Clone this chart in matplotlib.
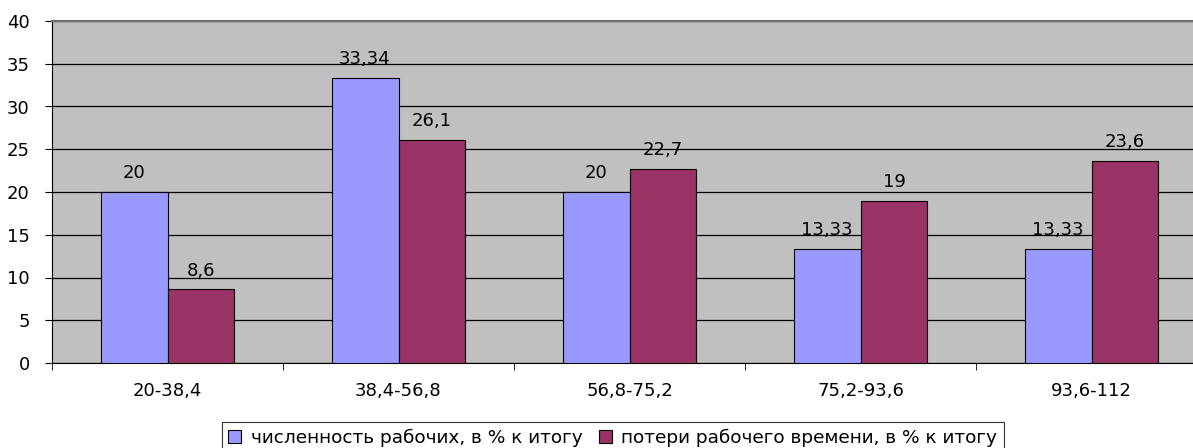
import numpy as np
import matplotlib.pyplot as plt

categories = ["20-38,4", "38,4-56,8", "56,8-75,2", "75,2-93,6", "93,6-112"]
workers = [20, 33.34, 20, 13.33, 13.33]
losses = [8.6, 26.1, 22.7, 19, 23.6]
workers_lbl = ["20", "33,34", "20", "13,33", "13,33"]
losses_lbl = ["8,6", "26,1", "22,7", "19", "23,6"]

plt.rcParams["font.family"] = ["DejaVu Sans"]
FS = 13

fig = plt.figure(figsize=(11.93, 4.48), dpi=100)
ax = fig.add_axes([52 / 1193, 85 / 448, 1155 / 1193, 342 / 448])
ax.set_facecolor("#C0C0C0")

x = np.arange(len(categories))
w = 0.29
b1 = ax.bar(x - w / 2, workers, w, color="#9999FF", edgecolor="black", linewidth=0.8,
            label="численность рабочих, в % к итогу", zorder=3)
b2 = ax.bar(x + w / 2, losses, w, color="#993366", edgecolor="black", linewidth=0.8,
            label="потери рабочего времени, в % к итогу", zorder=3)

for bars, lbls in ((b1, workers_lbl), (b2, losses_lbl)):
    for r, t in zip(bars, lbls):
        ax.annotate(t, (r.get_x() + r.get_width() / 2, r.get_height()),
                    xytext=(0, 7), textcoords="offset points",
                    ha="center", va="bottom", fontsize=FS, zorder=4)

ax.set_xlim(-0.5, len(categories) - 0.5)
ax.set_ylim(0, 40)
ax.set_yticks(range(0, 41, 5))
ax.yaxis.grid(True, color="black", linewidth=0.9, zorder=1)
ax.set_axisbelow(True)

ax.set_xticks(x)
ax.set_xticklabels(categories, fontsize=FS)
ax.set_xticks(np.arange(-0.5, len(categories), 1), minor=True)
ax.tick_params(axis="x", which="major", length=0, pad=14)
ax.tick_params(axis="x", which="minor", length=5, color="black")
ax.tick_params(axis="y", labelsize=FS, length=5, pad=11)

for s in ("top", "right"):
    ax.spines[s].set_color("#707070")
    ax.spines[s].set_linewidth(1.5)
ax.spines["left"].set_color("black")
ax.spines["bottom"].set_color("black")

leg = fig.legend(loc="upper left", bbox_to_anchor=(222 / 1193, 1 - 422 / 448),
                 ncol=2, fontsize=13.3, frameon=True, fancybox=False,
                 handlelength=0.7, handleheight=0.7, handletextpad=0.5,
                 columnspacing=0.9, borderpad=0.35, borderaxespad=0)
leg.get_frame().set_edgecolor("black")
leg.get_frame().set_linewidth(0.8)

fig.savefig("out.png", dpi=100)
